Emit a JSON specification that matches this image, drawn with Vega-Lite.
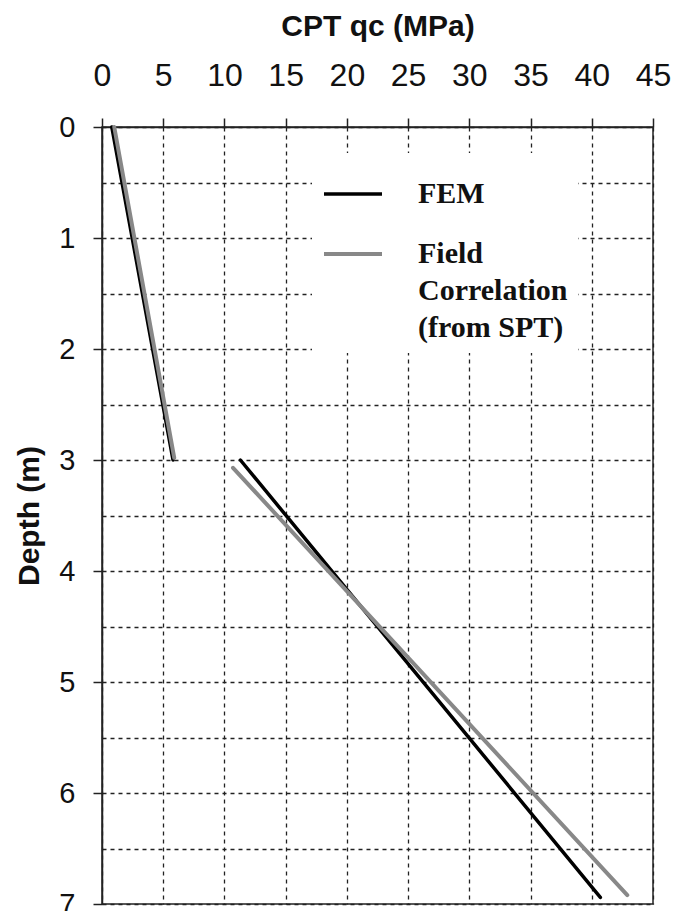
{
  "$schema": "https://vega.github.io/schema/vega-lite/v6.json",
  "width": 551,
  "height": 777,
  "autosize": {"type": "none"},
  "padding": {"left": 102, "top": 127, "right": 33, "bottom": 7},
  "background": "white",
  "config": {
    "view": {"stroke": "#222222", "strokeWidth": 1.5},
    "style": {"guide-label": {"lineHeight": 37}}
  },
  "data": {
    "values": [
      {"series": "FEM", "segment": "FEM-upper", "qc": 0.8, "depth": 0.0},
      {"series": "FEM", "segment": "FEM-upper", "qc": 5.8, "depth": 3.0},
      {"series": "FEM", "segment": "FEM-lower", "qc": 11.3, "depth": 3.0},
      {"series": "FEM", "segment": "FEM-lower", "qc": 40.7, "depth": 6.94},
      {"series": "Field", "segment": "Field-upper", "qc": 1.0, "depth": 0.0},
      {"series": "Field", "segment": "Field-upper", "qc": 5.9, "depth": 2.98},
      {"series": "Field", "segment": "Field-lower", "qc": 10.7, "depth": 3.07},
      {"series": "Field", "segment": "Field-lower", "qc": 42.9, "depth": 6.92}
    ]
  },
  "mark": {"type": "line", "strokeCap": "round"},
  "encoding": {
    "x": {
      "field": "qc",
      "type": "quantitative",
      "scale": {"domain": [0, 45], "nice": false, "zero": false},
      "axis": {
        "orient": "top",
        "title": "CPT qc (MPa)",
        "values": [0, 5, 10, 15, 20, 25, 30, 35, 40, 45],
        "titleFont": "Liberation Sans",
        "titleFontSize": 30,
        "titleFontWeight": "bold",
        "titleColor": "#111111",
        "titlePadding": 18,
        "labelFont": "Liberation Sans",
        "labelFontSize": 32,
        "labelColor": "#111111",
        "labelPadding": 26,
        "labelFlush": false,
        "tickSize": 9,
        "tickColor": "#222222",
        "tickWidth": 1.5,
        "domainColor": "#222222",
        "domainWidth": 1.5,
        "grid": true,
        "gridColor": "#222222",
        "gridDash": [4, 4],
        "gridWidth": 1.3
      }
    },
    "y": {
      "field": "depth",
      "type": "quantitative",
      "scale": {"domain": [0, 7], "reverse": true, "nice": false, "zero": false},
      "axis": {
        "title": "Depth (m)",
        "values": [0, 0.5, 1, 1.5, 2, 2.5, 3, 3.5, 4, 4.5, 5, 5.5, 6, 6.5, 7],
        "labelExpr": "datum.value % 1 === 0 ? format(datum.value, 'd') : ''",
        "titleFont": "Liberation Sans",
        "titleFontSize": 30,
        "titleFontWeight": "bold",
        "titleColor": "#111111",
        "titlePadding": 14,
        "labelFont": "Liberation Sans",
        "labelFontSize": 29,
        "labelColor": "#111111",
        "labelPadding": 18,
        "labelFlush": false,
        "tickSize": 9,
        "tickColor": "#222222",
        "tickWidth": 1.5,
        "tickOpacity": {"condition": {"test": "datum.value % 1 === 0", "value": 1}, "value": 0},
        "domainColor": "#222222",
        "domainWidth": 1.5,
        "grid": true,
        "gridColor": "#222222",
        "gridDash": [4, 4],
        "gridWidth": 1.3
      }
    },
    "color": {
      "field": "series",
      "type": "nominal",
      "scale": {"domain": ["FEM", "Field"], "range": ["#000000", "#888888"]},
      "legend": {
        "title": null,
        "orient": "none",
        "direction": "vertical",
        "legendX": 210,
        "legendY": 26,
        "padding": 10,
        "fillColor": "white",
        "symbolType": "stroke",
        "symbolSize": 3364,
        "symbolStrokeWidth": 7,
        "rowPadding": 14,
        "labelFont": "Liberation Serif",
        "labelFontWeight": "bold",
        "labelFontSize": 30,
        "labelColor": "#111111",
        "labelBaseline": "middle",
        "labelOffset": 34,
        "labelLimit": 400,
        "labelExpr": "datum.label === 'Field' ? ['Field', 'Correlation', '(from SPT)'] : datum.label"
      }
    },
    "strokeWidth": {
      "field": "series",
      "type": "nominal",
      "scale": {"domain": ["FEM", "Field"], "range": [3.5, 4]},
      "legend": null
    },
    "detail": {"field": "segment", "type": "nominal"},
    "order": {"field": "depth", "type": "quantitative"}
  }
}
